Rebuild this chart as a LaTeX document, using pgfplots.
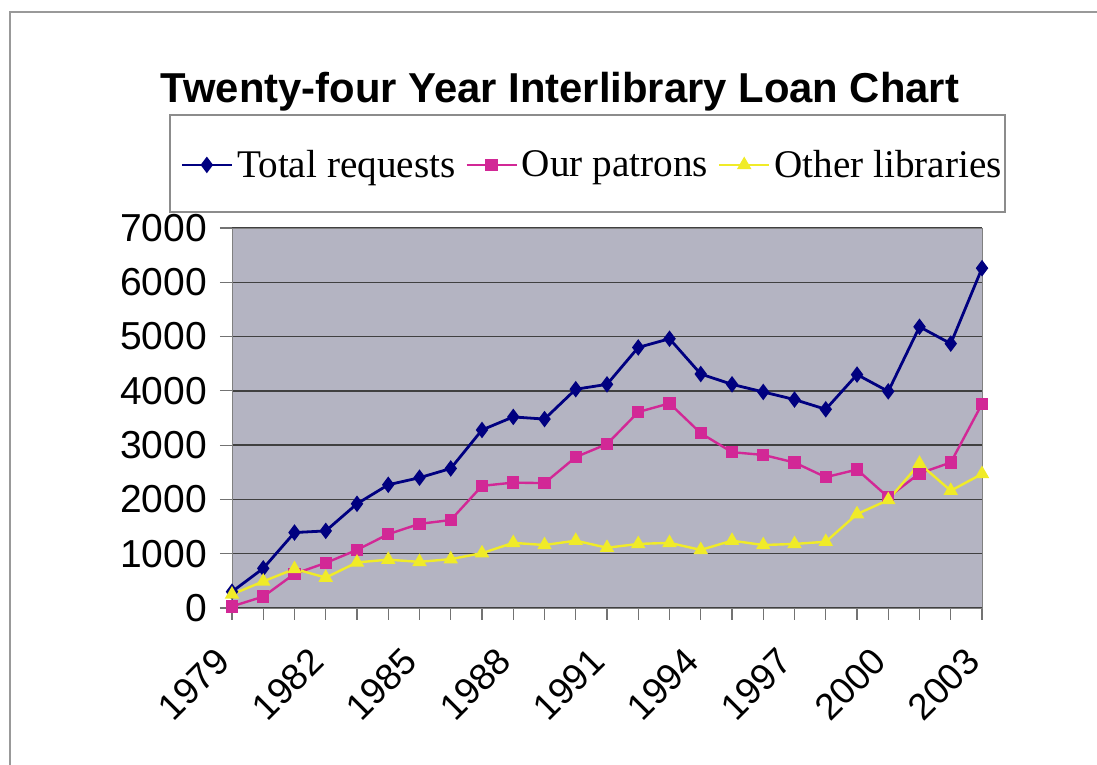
\documentclass[border=0pt]{standalone}
\usepackage{fontspec}
\setmainfont{Liberation Sans}
\newfontfamily\legendfont{Liberation Serif}
\usepackage{pgfplots}
\pgfplotsset{compat=1.18}
\definecolor{plotbg}{RGB}{180,180,194}
\definecolor{tot}{RGB}{0,0,128}
\definecolor{pat}{RGB}{210,40,150}
\definecolor{oth}{RGB}{240,235,40}
\begin{document}
\begin{tikzpicture}[x=0.5pt,y=0.5pt]
\useasboundingbox (0,0) rectangle (1097,765);
\draw[black!40, line width=1pt] (10,0) -- (10,753) -- (1097,753);
\node[font=\bfseries\fontsize{20.9}{24}\selectfont, anchor=base] at (560,662) {Twenty-four Year Interlibrary Loan Chart};
\begin{axis}[
  at={(116pt,78.5pt)}, anchor=south west,
  scale only axis, width=375pt, height=190pt,
  xmin=1979, xmax=2003, ymin=0, ymax=7000,
  axis background/.style={fill=plotbg},
  axis line style={black!50},
  ytick={0,1000,...,7000},
  ymajorgrids, grid style={black!75, line width=0.7pt},
  xtick={1979,1982,...,2003}, minor xtick={1979,...,2003},
  xtick pos=bottom, ytick pos=left,
  tick align=outside, tick style={black!55, line width=0.6pt},
  major tick length=6pt, minor tick length=6pt,
  /pgf/number format/assume math mode=true,
  /pgf/number format/1000 sep={},
  yticklabel style={font=\fontsize{19.5}{20}\selectfont, xshift=-3pt},
  xticklabel style={font=\fontsize{18.5}{20}\selectfont, yshift=-15pt, xshift=-2pt, rotate=45, anchor=east},
  legend columns=3,
  legend style={draw=none, fill=none, at={(-0.0693,1.166)}, anchor=west,
    font=\legendfont\fontsize{19.6}{22}\selectfont,
    /tikz/every even column/.append style={column sep=3pt},
    inner sep=0pt},
  legend image code/.code={\draw[mark repeat=2,mark phase=2] plot coordinates {(0pt,0pt)(12.5pt,0pt)(25pt,0pt)};},
]
\addplot[tot, line width=1.4pt, mark=diamond*, mark size=3pt] coordinates {
(1979,300)(1980,730)(1981,1390)(1982,1420)(1983,1920)(1984,2270)(1985,2400)(1986,2570)(1987,3280)(1988,3520)(1989,3480)(1990,4030)(1991,4120)(1992,4800)(1993,4960)(1994,4310)(1995,4120)(1996,3980)(1997,3840)(1998,3660)(1999,4300)(2000,3990)(2001,5180)(2002,4870)(2003,6260)};
\addlegendentry{Total requests}
\addplot[pat, line width=1.2pt, mark=square*, mark size=2.5pt] coordinates {
(1979,30)(1980,210)(1981,630)(1982,830)(1983,1070)(1984,1360)(1985,1550)(1986,1620)(1987,2250)(1988,2310)(1989,2300)(1990,2780)(1991,3020)(1992,3610)(1993,3770)(1994,3220)(1995,2870)(1996,2820)(1997,2680)(1998,2410)(1999,2550)(2000,2040)(2001,2480)(2002,2680)(2003,3760)};
\addlegendentry{Our patrons}
\addplot[oth, line width=1.2pt, mark=triangle*, mark size=3pt] coordinates {
(1979,250)(1980,490)(1981,720)(1982,560)(1983,840)(1984,890)(1985,850)(1986,900)(1987,1010)(1988,1200)(1989,1160)(1990,1240)(1991,1110)(1992,1180)(1993,1200)(1994,1070)(1995,1240)(1996,1160)(1997,1180)(1998,1220)(1999,1730)(2000,1990)(2001,2660)(2002,2160)(2003,2470)};
\addlegendentry{Other libraries}
\end{axis}
\draw[black!45, line width=0.8pt] (170,553) rectangle (1005,650);
\end{tikzpicture}
\end{document}
